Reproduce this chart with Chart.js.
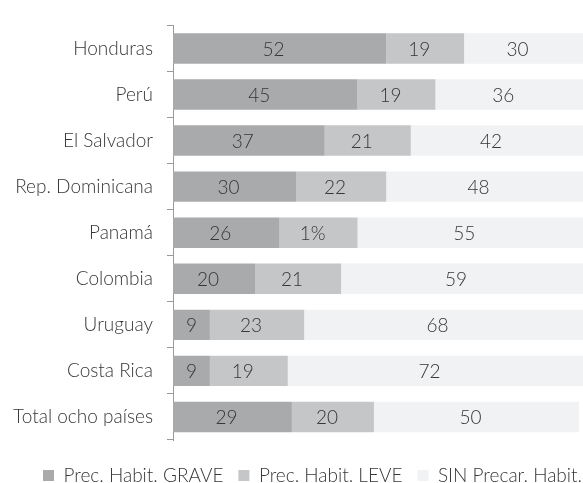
<!DOCTYPE html>
<html><head><meta charset="utf-8">
<script src="https://cdn.jsdelivr.net/npm/chart.js@4.4.1/dist/chart.umd.min.js"></script>
<style>html,body{margin:0;padding:0;background:#fff;}</style>
</head><body>
<canvas id="c" width="583" height="483"></canvas>
<script>
const categories = ['Honduras','Perú','El Salvador','Rep. Dominicana','Panamá','Colombia','Uruguay','Costa Rica','Total ocho países'];
const seriesNames = ['Prec. Habit. GRAVE','Prec. Habit. LEVE','SIN Precar. Habit.'];
const graveValues = [52,45,37,30,26,20,9,9,29];
const leveValues  = [19,19,21,22,19,21,23,19,20];
const sinValues   = [30,36,42,48,55,59,68,72,50];
// labels as printed in the source (Panamá's LEVE label reads "1%")
const graveLabels = ['52','45','37','30','26','20','9','9','29'];
const leveLabels  = ['19','19','21','22','1%','21','23','19','20'];
const sinLabels   = ['30','36','42','48','55','59','68','72','50'];
const xTicks = {min: 0, max: 100};

const FONT = 'Lato';
const TEXT = '#363636';
const COLORS = ['#a9aaac','#c5c6c8','#f1f2f3'];
const labelSets = [graveLabels, leveLabels, sinLabels];

const valueLabels = {
  id: 'valueLabels',
  afterDatasetsDraw(chart) {
    const ctx = chart.ctx;
    ctx.save();
    ctx.font = '300 19px ' + FONT;
    ctx.fillStyle = TEXT;
    ctx.textAlign = 'center';
    ctx.textBaseline = 'middle';
    const area = chart.chartArea;
    chart.data.datasets.forEach((ds, di) => {
      const meta = chart.getDatasetMeta(di);
      meta.data.forEach((el, i) => {
        const p = el.getProps(['x','y','base'], true);
        const end = Math.min(p.x, area.right);
        const txt = labelSets[di][i];
        const cx = (p.base + end) / 2 - (txt.length > 1 ? 6 : 0);
        ctx.fillText(txt, cx, p.y + 1);
      });
    });
    ctx.restore();
  }
};

const legendShift = {
  id: 'legendShift',
  afterLayout(chart) {
    if (chart.legend) { chart.legend.left += 14; chart.legend.right += 14; }
  }
};

new Chart(document.getElementById('c'), {
  type: 'bar',
  data: {
    labels: categories,
    datasets: [
      {label: seriesNames[0], data: graveValues, backgroundColor: COLORS[0], borderWidth: 0},
      {label: seriesNames[1], data: leveValues, backgroundColor: COLORS[1], borderWidth: 0},
      {label: seriesNames[2], data: sinValues, backgroundColor: COLORS[2], borderWidth: 0}
    ]
  },
  options: {
    indexAxis: 'y',
    responsive: false,
    animation: false,
    devicePixelRatio: 1,
    layout: {padding: {top: 12, right: 0, bottom: 0, left: 0}},
    datasets: {bar: {barPercentage: 0.66, categoryPercentage: 1}},
    scales: {
      x: {
        stacked: true, min: xTicks.min, max: xTicks.max, display: false
      },
      y: {
        stacked: true,
        afterFit(s) { s.width = 173; },
        border: {display: true, color: '#9a9a9a', width: 1},
        grid: {offset: true, drawOnChartArea: false, drawTicks: true, tickLength: 6, color: '#9a9a9a', lineWidth: 1},
        ticks: {color: TEXT, font: {family: FONT, size: 19, weight: '300'}, padding: 14}
      }
    },
    plugins: {
      tooltip: {enabled: false},
      legend: {
        position: 'bottom',
        align: 'end',
        maxHeight: 43,
        title: {display: true, text: '', font: {size: 1, lineHeight: 1}, padding: {top: 10, bottom: 0}},
        labels: {
          color: TEXT,
          font: {family: FONT, size: 19, weight: '300'},
          boxWidth: 11, boxHeight: 11,
          padding: 15
        }
      }
    }
  },
  plugins: [valueLabels, legendShift]
});
</script>
</body></html>
